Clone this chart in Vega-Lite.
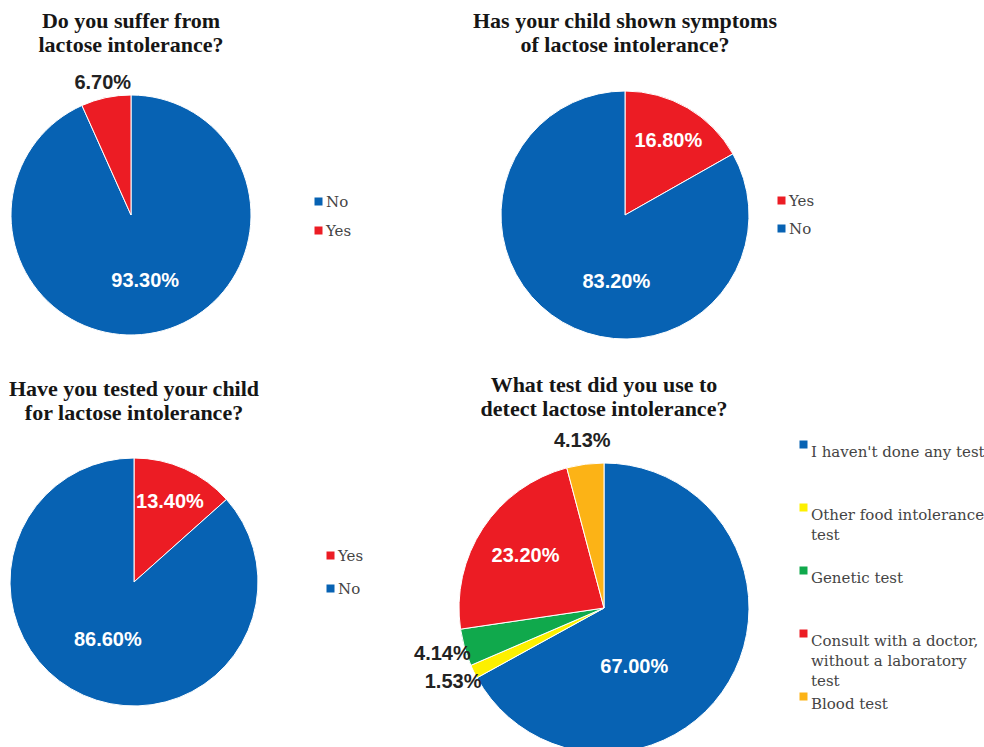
{
  "$schema": "https://vega.github.io/schema/vega-lite/v6.json",
  "padding": {"top": 10, "left": 0, "right": 0, "bottom": 0},
  "background": "white",
  "config": {
    "view": {"stroke": null},
    "title": {"font": "Liberation Serif", "fontSize": 22, "fontWeight": "bold", "lineHeight": 24, "color": "#161616", "anchor": "middle", "frame": "group", "offset": 10},
    "legend": {"orient": "none", "symbolType": "square", "symbolSize": 81, "symbolStrokeWidth": 0, "labelFont": "DejaVu Serif", "labelFontSize": 15, "labelColor": "#444444", "labelOffset": 0, "padding": 0, "labelLimit": 400},
    "style": {"guide-label": {"lineHeight": 20}},
    "arc": {"stroke": "white", "strokeWidth": 1},
    "text": {"font": "Liberation Sans", "fontSize": 20, "fontWeight": "bold", "align": "center", "baseline": "middle"}
  },
  "datasets": {
    "a": [{"answer": "No", "share": 0.933, "rank": 1}, {"answer": "Yes", "share": 0.067, "rank": 2}],
    "b": [{"answer": "Yes", "share": 0.168, "rank": 1}, {"answer": "No", "share": 0.832, "rank": 2}],
    "c": [{"answer": "Yes", "share": 0.134, "rank": 1}, {"answer": "No", "share": 0.866, "rank": 2}],
    "d": [
      {"answer": "I haven't done any test", "share": 0.67, "rank": 1},
      {"answer": "Other food intolerance test", "share": 0.0153, "rank": 2},
      {"answer": "Genetic test", "share": 0.0414, "rank": 3},
      {"answer": "Consult with a doctor, without a laboratory test", "share": 0.232, "rank": 4},
      {"answer": "Blood test", "share": 0.0413, "rank": 5}
    ]
  },
  "resolve": {"scale": {"color": "independent", "theta": "independent"}, "legend": {"color": "independent"}},
  "spacing": 11,
  "vconcat": [
    {
      "resolve": {"scale": {"color": "independent", "theta": "independent"}, "legend": {"color": "independent"}},
      "spacing": 120,
      "hconcat": [
        {
          "data": {"name": "a"},
          "width": 262, "height": 296,
          "title": {"text": ["Do you suffer from", "lactose intolerance?"]},
          "encoding": {
            "theta": {"field": "share", "type": "quantitative", "stack": true},
            "order": {"field": "rank", "type": "quantitative"}
          },
          "layer": [
            {"mark": {"type": "arc", "outerRadius": 120},
             "encoding": {"color": {"field": "answer", "type": "nominal", "scale": {"domain": ["No", "Yes"], "range": ["#0762b3", "#ec1c24"]}, "legend": {"title": null, "legendX": 311, "legendY": 127, "rowPadding": 13}}}},
            {"mark": {"type": "text", "radius": 68, "color": "white"},
             "encoding": {"text": {"condition": {"test": "datum.share > 0.5", "field": "share", "format": ".2%"}, "value": ""}}},
            {"mark": {"type": "text", "radius": 135, "color": "#222222"},
             "encoding": {"text": {"condition": {"test": "datum.share <= 0.1", "field": "share", "format": ".2%"}, "value": ""}}}
          ]
        },
        {
          "data": {"name": "b"},
          "width": 262, "height": 296,
          "title": {"text": ["Has your child shown symptoms", "of lactose intolerance?"]},
          "encoding": {
            "theta": {"field": "share", "type": "quantitative", "stack": true},
            "order": {"field": "rank", "type": "quantitative"}
          },
          "layer": [
            {"mark": {"type": "arc", "outerRadius": 124},
             "encoding": {"color": {"field": "answer", "type": "nominal", "scale": {"domain": ["Yes", "No"], "range": ["#ec1c24", "#0762b3"]}, "legend": {"title": null, "legendX": 280, "legendY": 126, "rowPadding": 12}}}},
            {"mark": {"type": "text", "radius": 68, "color": "white", "thetaOffset": -0.4},
             "encoding": {"text": {"condition": {"test": "datum.share > 0.5", "field": "share", "format": ".2%"}, "value": ""}}},
            {"mark": {"type": "text", "radius": 86, "color": "white"},
             "encoding": {"text": {"condition": {"test": "datum.share > 0.1 && datum.share <= 0.5", "field": "share", "format": ".2%"}, "value": ""}}}
          ]
        }
      ]
    },
    {
      "resolve": {"scale": {"color": "independent", "theta": "independent"}, "legend": {"color": "independent"}},
      "spacing": 50,
      "hconcat": [
        {
          "data": {"name": "c"},
          "width": 268, "height": 294,
          "title": {"text": ["Have you tested your child", "for lactose intolerance?"]},
          "encoding": {
            "theta": {"field": "share", "type": "quantitative", "stack": true},
            "order": {"field": "rank", "type": "quantitative"}
          },
          "layer": [
            {"mark": {"type": "arc", "outerRadius": 124},
             "encoding": {"color": {"field": "answer", "type": "nominal", "scale": {"domain": ["Yes", "No"], "range": ["#ec1c24", "#0762b3"]}, "legend": {"title": null, "legendX": 323, "legendY": 113, "rowPadding": 17}}}},
            {"mark": {"type": "text", "radius": 64, "color": "white"},
             "encoding": {"text": {"condition": {"test": "datum.share > 0.5", "field": "share", "format": ".2%"}, "value": ""}}},
            {"mark": {"type": "text", "radius": 88, "color": "white"},
             "encoding": {"text": {"condition": {"test": "datum.share > 0.1 && datum.share <= 0.5", "field": "share", "format": ".2%"}, "value": ""}}}
          ]
        },
        {
          "data": {"name": "d"},
          "width": 290, "height": 346,
          "title": {"text": ["What test did you use to", "detect lactose intolerance?"]},
          "encoding": {
            "theta": {"field": "share", "type": "quantitative", "stack": true},
            "order": {"field": "rank", "type": "quantitative"}
          },
          "layer": [
            {"mark": {"type": "arc", "outerRadius": 145},
             "encoding": {"color": {"field": "answer", "type": "nominal", "scale": {"domain": ["I haven't done any test", "Other food intolerance test", "Genetic test", "Consult with a doctor, without a laboratory test", "Blood test"], "range": ["#0762b3", "#fdf000", "#10a94c", "#ec1c24", "#fcb316"]}, "legend": {"title": null, "legendX": 337, "legendY": 2, "rowPadding": -3, "gridAlign": "all", "labelBaseline": "top", "labelExpr": "datum.label == 'Other food intolerance test' ? ['Other food intolerance', 'test'] : datum.label == 'Consult with a doctor, without a laboratory test' ? ['Consult with a doctor,', 'without a laboratory', 'test'] : datum.label"}}}},
            {"mark": {"type": "text", "radius": 66, "color": "white", "thetaOffset": 0.56},
             "encoding": {"text": {"condition": {"test": "datum.share > 0.5", "field": "share", "format": ".2%"}, "value": ""}}},
            {"mark": {"type": "text", "radius": 94, "color": "white"},
             "encoding": {"text": {"condition": {"test": "datum.share > 0.1 && datum.share <= 0.5", "field": "share", "format": ".2%"}, "value": ""}}},
            {"mark": {"type": "text", "radius": 168, "color": "#222222"},
             "encoding": {"text": {"condition": {"test": "datum.share <= 0.1", "field": "share", "format": ".2%"}, "value": ""}}}
          ]
        }
      ]
    }
  ]
}
